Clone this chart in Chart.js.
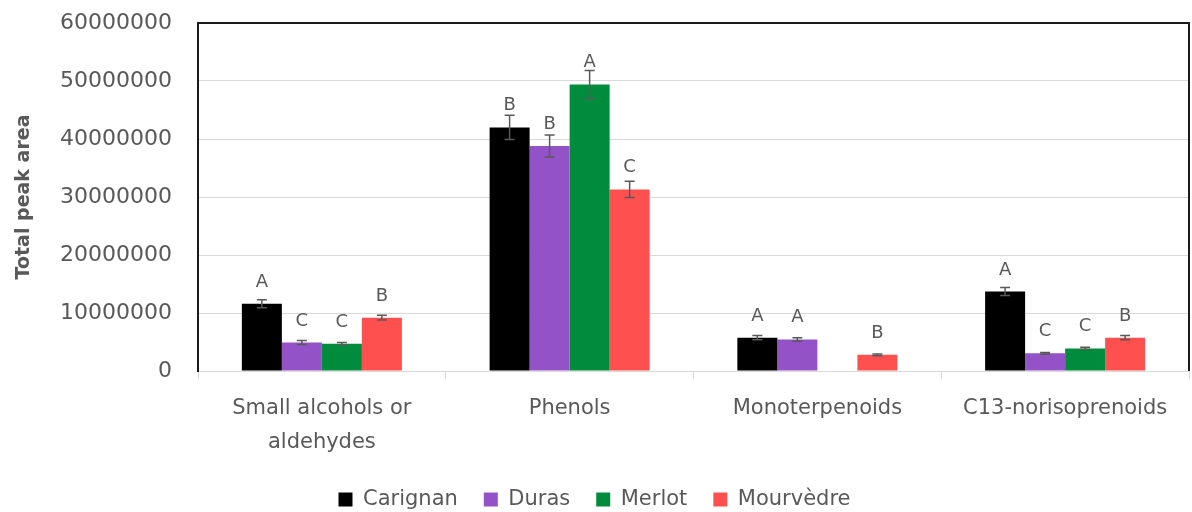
<!DOCTYPE html>
<html>
<head>
<meta charset="utf-8">
<script src="https://cdn.jsdelivr.net/npm/chart.js@4"></script>
<style>
  html, body { margin: 0; padding: 0; background: #fff; }
  #wrap { width: 1192px; height: 512px; }
</style>
</head>
<body>
<div id="wrap"><canvas id="aromaChart" width="1192" height="512"></canvas></div>
<script>
// 化合物クラス
const categories = [['Small alcohols or', 'aldehydes'], 'Phenols', 'Monoterpenoids', 'C13-norisoprenoids'];
const varieties = ['Carignan', 'Duras', 'Merlot', 'Mourvèdre'];

// 品種ごとの総ピーク面積
const carignan  = [11600000, 42000000, 5750000, 13700000];
const duras     = [4900000, 38800000, 5450000, 3050000];
const merlot    = [4700000, 49400000, null, 3900000];
const mourvedre = [9200000, 31300000, 2800000, 5750000];

// 標準誤差
const carignanErr  = [700000, 2100000, 350000, 700000];
const durasErr     = [350000, 1900000, 300000, 150000];
const merlotErr    = [200000, 2400000, null, 200000];
const mourvedreErr = [400000, 1400000, 150000, 350000];

// 有意差の文字
const carignanSig  = ['A', 'B', 'A', 'A'];
const durasSig     = ['C', 'B', 'A', 'C'];
const merlotSig    = ['C', 'A', '', 'C'];
const mourvedreSig = ['B', 'C', 'B', 'B'];

const yTicks = [0, 10000000, 20000000, 30000000, 40000000, 50000000, 60000000];

const textColor = '#595959';
const fontFamily = '"DejaVu Sans", sans-serif';

const series = [
  { label: varieties[0], data: carignan,  err: carignanErr,  sig: carignanSig,  color: '#000000' },
  { label: varieties[1], data: duras,     err: durasErr,     sig: durasSig,     color: '#9452c8' },
  { label: varieties[2], data: merlot,    err: merlotErr,    sig: merlotSig,    color: '#008c3c' },
  { label: varieties[3], data: mourvedre, err: mourvedreErr, sig: mourvedreSig, color: '#ff5050' }
];

// エラーバーと文字
const errorBarPlugin = {
  id: 'errorBars',
  afterDatasetsDraw(chart) {
    const ctx = chart.ctx;
    const y = chart.scales.y;
    ctx.save();
    chart.data.datasets.forEach((ds, di) => {
      const meta = chart.getDatasetMeta(di);
      meta.data.forEach((bar, i) => {
        const v = ds.data[i];
        if (v == null) return;
        const e = ds.errors[i] || 0;
        const yHi = y.getPixelForValue(v + e);
        const yLo = y.getPixelForValue(v - e);
        ctx.strokeStyle = textColor;
        ctx.lineWidth = 1.5;
        ctx.beginPath();
        ctx.moveTo(bar.x, yHi); ctx.lineTo(bar.x, yLo);
        ctx.moveTo(bar.x - 5, yHi); ctx.lineTo(bar.x + 5, yHi);
        ctx.moveTo(bar.x - 5, yLo); ctx.lineTo(bar.x + 5, yLo);
        ctx.stroke();

        ctx.fillStyle = textColor;
        ctx.font = '18px ' + fontFamily;
        ctx.textAlign = 'center';
        ctx.textBaseline = 'alphabetic';
        ctx.fillText(ds.letters[i], bar.x, bar.y - 17);
      });
    });
    ctx.restore();
  }
};

// 上と右の枠線
const framePlugin = {
  id: 'frame',
  afterDraw(chart) {
    const a = chart.chartArea;
    const ctx = chart.ctx;
    ctx.save();
    ctx.strokeStyle = '#1a1a1a';
    ctx.lineWidth = 2;
    ctx.beginPath();
    ctx.moveTo(a.left, a.top);
    ctx.lineTo(a.right, a.top);
    ctx.lineTo(a.right, a.bottom);
    ctx.stroke();
    ctx.restore();
  }
};

let ctx = document.getElementById('aromaChart');

let chart = new Chart(ctx, {
  type: 'bar',
  data: {
    labels: categories,
    datasets: series.map(s => ({
      label: s.label,
      data: s.data,
      errors: s.err,
      letters: s.sig,
      backgroundColor: s.color,
      borderWidth: 0,
      categoryPercentage: 0.646,
      barPercentage: 1.0
    }))
  },
  options: {
    responsive: false,
    animation: false,
    layout: {
      padding: { top: 23, right: 3, left: 0, bottom: -8 }
    },
    plugins: {
      legend: {
        position: 'bottom',
        labels: {
          boxWidth: 14,
          boxHeight: 14,
          padding: 26,
          color: textColor,
          font: { family: fontFamily, size: 21 }
        }
      },
      tooltip: { enabled: false }
    },
    scales: {
      x: {
        grid: {
          display: true,
          drawOnChartArea: false,
          drawTicks: true,
          tickLength: 8,
          color: '#d9d9d9',
          offset: true
        },
        border: { color: '#d9d9d9', width: 1 },
        ticks: {
          color: textColor,
          padding: 12,
          maxRotation: 0,
          autoSkip: false,
          font: { family: fontFamily, size: 21, lineHeight: 1.65 }
        },
        afterFit(scale) { scale.height = 92; }
      },
      y: {
        min: 0,
        max: 60000000,
        afterBuildTicks(scale) { scale.ticks = yTicks.map(v => ({ value: v })); },
        grid: { color: '#d9d9d9', drawTicks: false },
        border: { color: '#1a1a1a', width: 2 },
        ticks: {
          color: textColor,
          padding: 26,
          font: { family: fontFamily, size: 22 },
          callback: v => String(v)
        },
        title: {
          display: true,
          text: 'Total peak area',
          color: textColor,
          font: { family: fontFamily, size: 19, weight: 'bold' },
          padding: { top: 13, bottom: 0 }
        },
        afterFit(scale) {
          scale.width = 198;
          scale.paddingTop = 0;
          scale.paddingBottom = 0;
        }
      }
    }
  },
  plugins: [errorBarPlugin, framePlugin]
});
</script>
</body>
</html>
